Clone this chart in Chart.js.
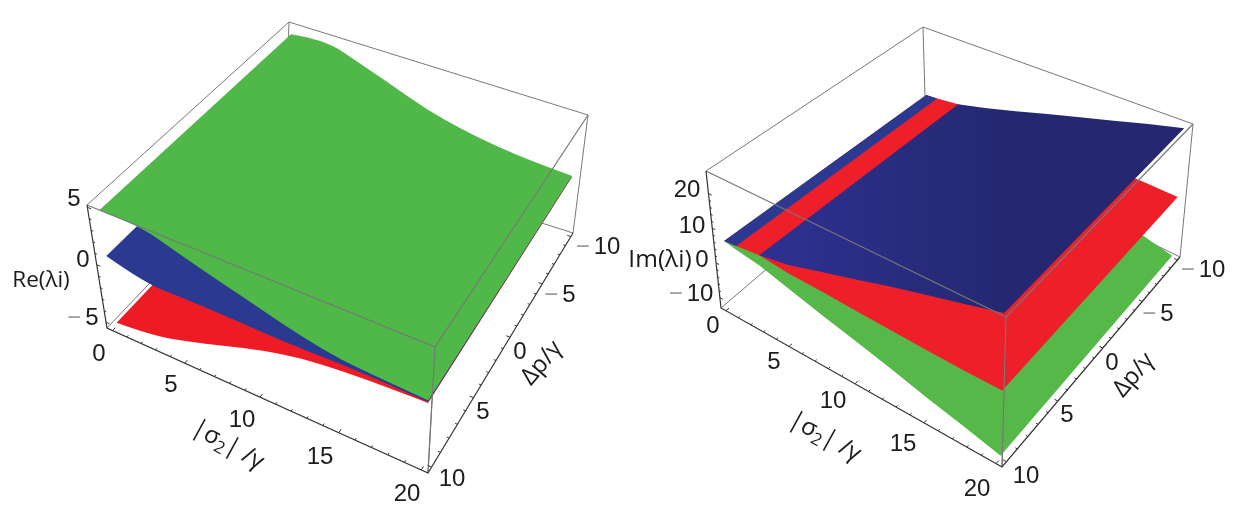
<!DOCTYPE html>
<html>
<head>
<meta charset="utf-8">
<title>Re and Im eigenvalue surfaces</title>
<script src="https://cdn.jsdelivr.net/npm/chart.js@4"></script>
<style>
  html, body { margin: 0; padding: 0; background: #fff; }
  canvas { position: absolute; top: 0; }
  #rePlot { left: 0; }
  #imPlot { left: 621px; }
</style>
</head>
<body>
<canvas id="rePlot" width="621" height="521"></canvas>
<canvas id="imPlot" width="621" height="521"></canvas>
<script>
// Re(lambda_i) panel: surface height along the near (delta = 10) and far (delta = -10) edges
const reSigma = [0, 2.5, 5, 7.5, 10, 12.5, 15, 17.5, 20]
const reGreenNear = [4.56, 4.7, 3.6, 2.62, 1.68, 0.78, 0.19, 0.03, -0.1]
const reGreenFar = [4.5, 4.95, 3.88, 2.8, 1.63, 0.85, 0.31, -0.03, -0.19]
const reBlueNear = [0.59, -0.4, -0.29, -0.24, -0.33, -0.3, -0.15, -0.15, -0.22]
const reBlueFar = [0.59, -0.3, -0.3, -0.25, -0.3, -0.3, -0.2, -0.2, -0.24]
const reRedNear = [-5.24, -4.95, -4.08, -3, -1.93, -1.12, -0.71, -0.48, -0.31]
const reRedFar = [-5.24, -4.95, -4.08, -3, -1.93, -1.12, -0.71, -0.48, -0.31]

// Im(lambda_i) panel
const imSigma = [0, 0.95, 2.75, 5, 7.5, 10, 12.5, 15, 17.5, 20]
const imGreenNear = [5.92, 5.2, 4.06, 1.7, -0.8, -3.1, -5.4, -7.9, -10, -12.3]
const imGreenFar = [2.8, 1.96, 0.6, -1, -2.9, -4.8, -6.7, -8.7, -10.5, -12.5]
const imRedNear = [5.92, 6.3, 7.2, 6.3, 6.1, 5.7, 5.4, 5.1, 4.9, 5]
const imRedFar = [2.8, 3.27, 4.44, 4.6, 4.8, 5, 5, 5, 5.1, 5]
const imBlueNear = [5.92, 6.3, 7.2, 8.8, 11.7, 14.6, 17.5, 20.2, 22.8, 25.5]
const imBlueFar = [2.8, 3.27, 4.44, 7.2, 10.5, 13.8, 16.9, 19.9, 22.9, 25.5]

// Axis ticks
const sigmaTicks = [0, 1, 2, 3, 4, 5, 6, 7, 8, 9, 10, 11, 12, 13, 14, 15, 16, 17, 18, 19, 20]
const deltaTicks = [-10, -9, -8, -7, -6, -5, -4, -3, -2, -1, 0, 1, 2, 3, 4, 5, 6, 7, 8, 9, 10]
const reTicks = [-5, -4, -3, -2, -1, 0, 1, 2, 3, 4, 5]
const imTicks = [-10, -8, -6, -4, -2, 0, 2, 4, 6, 8, 10, 12, 14, 16, 18, 20]

const sigmaTickLabels = ["0", "5", "10", "15", "20"]
const deltaTickLabels = ["10", "5", "0", "-5", "-10"]
const reTickLabels = ["5", "0", "-5"]
const imTickLabels = ["20", "10", "0", "-10"]

const GREEN = "#4fb848"
const BLUE = "#2b3990"
const RED = "#ed1c24"
const BOX_GREY = "#777"
const AXIS_DARK = "#333"
const TICK_FONT = '24px "Liberation Sans", sans-serif'
const MAJOR_TICK = 0.24
const MINOR_TICK = 0.14

const SIGMA_PAD = 0.4
const DELTA_PAD = 0.4

const lerp = (a, b, t) => ({ x: a.x + (b.x - a.x) * t, y: a.y + (b.y - a.y) * t })
// Nearer end of an edge takes up more of its length
const warp = (f, k) => f / (f + (1 - f) * k)

const makeProjection = (box, zMin, zMax) => (sigma, delta, z) => {
  const u = warp((sigma + SIGMA_PAD) / (20 + 2 * SIGMA_PAD), 1.097)
  const v = warp((10 + DELTA_PAD - delta) / (20 + 2 * DELTA_PAD), 0.767)
  const w = (z - zMin) / (zMax - zMin)
  const bottom = lerp(lerp(box.E, box.F, u), lerp(box.H, box.G, u), v)
  const top = lerp(lerp(box.A, box.D, u), lerp(box.B, box.C, u), v)
  return lerp(bottom, top, w)
}

// Traces an edge, rounding it through the midpoints when smooth is set
const traceEdge = (ctx, list, smooth) => {
  ctx.lineTo(list[0].x, list[0].y)
  if (smooth) {
    for (let i = 1; i < list.length - 1; i++) {
      const next = list[i + 1]
      const end = i === list.length - 2 ? next : { x: (list[i].x + next.x) / 2, y: (list[i].y + next.y) / 2 }
      ctx.quadraticCurveTo(list[i].x, list[i].y, end.x, end.y)
    }
  } else {
    list.forEach((p) => ctx.lineTo(p.x, p.y))
  }
}

// Fills the closed outline of a surface from the points the scales have placed
const surfacePlugin = {
  id: "surfaceFill",
  beforeDatasetDraw(chart, args) {
    const dataset = chart.data.datasets[args.index]
    if (!dataset.surfaceColor) return
    const ctx = chart.ctx
    const points = args.meta.data
    const half = points.length / 2
    let fillStyle = dataset.surfaceColor
    if (Array.isArray(fillStyle)) {
      const grad = ctx.createLinearGradient(points[0].x, 0, points[half - 1].x, 0)
      grad.addColorStop(0, fillStyle[0])
      grad.addColorStop(1, fillStyle[1])
      fillStyle = grad
    }
    ctx.save()
    ctx.beginPath()
    ctx.moveTo(points[0].x, points[0].y)
    traceEdge(ctx, points.slice(0, half), dataset.smooth)
    traceEdge(ctx, points.slice(half), dataset.smooth)
    ctx.closePath()
    ctx.fillStyle = fillStyle
    ctx.fill()
    ctx.restore()
  },
}

// Text labels, placed in the same coordinates as the scales
const labelPlugin = {
  id: "panelLabels",
  afterDraw(chart, args, opts) {
    const ctx = chart.ctx
    const px = (x) => chart.scales.x.getPixelForValue(x)
    const py = (y) => chart.scales.y.getPixelForValue(y)
    ctx.save()
    ctx.textBaseline = "alphabetic"
    ctx.textAlign = "center"

    opts.ticks.forEach(([text, x, y]) => {
      ctx.font = TICK_FONT
      const baseline = py(y) + 8.5
      if (text.startsWith("-")) {
        const digits = text.slice(1)
        const w = ctx.measureText(digits).width
        ctx.fillStyle = "#1c1c1c"
        ctx.fillText(digits, px(x), baseline)
        ctx.fillStyle = "#9a9a9a"
        ctx.fillText("\u2212", px(x) - w / 2 - 11, baseline)
      } else {
        ctx.fillStyle = "#1c1c1c"
        ctx.fillText(text, px(x), baseline)
      }
    })

    ctx.textBaseline = "middle"
    ctx.fillStyle = "#1a1a1a"
    ctx.font = `${opts.titleSize}px "Open Sans", sans-serif`
    ctx.fillText(opts.title[0], px(opts.title[1]), py(opts.title[2]))

    // |sigma_2| /gamma
    ctx.save()
    ctx.translate(px(opts.sigmaLabel[0]), py(opts.sigmaLabel[1]))
    ctx.rotate((29 * Math.PI) / 180)
    ctx.textAlign = "left"
    const head = "|\u03c3"
    const tail = "| /\u03b3"
    ctx.font = '17px "Open Sans", sans-serif'
    const subW = ctx.measureText("2").width
    ctx.font = '24px "Open Sans", sans-serif'
    const headW = ctx.measureText(head).width
    const tailW = ctx.measureText(tail).width
    const start = -(headW + subW + tailW) / 2
    ctx.fillText(head, start, 0)
    ctx.fillText(tail, start + headW + subW, 0)
    ctx.font = '17px "Open Sans", sans-serif'
    ctx.fillText("2", start + headW, 7)
    ctx.restore()

    // Delta_p /gamma
    ctx.save()
    ctx.translate(px(opts.deltaLabel[0]), py(opts.deltaLabel[1]))
    ctx.rotate((-49.5 * Math.PI) / 180)
    ctx.font = '24px "Open Sans", sans-serif'
    ctx.fillText("\u0394p/\u03b3", 0, 0)
    ctx.restore()

    ctx.restore()
  },
}

const surface = (project, sigmas, near, far, color, smooth = false) => ({
  label: "surface",
  surfaceColor: color,
  smooth,
  showLine: false,
  pointRadius: 0,
  data: [
    ...sigmas.map((s, i) => project(s, 10, near[i])),
    ...sigmas.map((s, i) => project(s, -10, far[i])).reverse(),
  ],
})

const strokes = (points, color, width) => ({
  label: "box",
  showLine: true,
  spanGaps: false,
  pointRadius: 0,
  borderColor: color,
  borderWidth: width,
  tension: 0,
  data: points,
})

const GAP = { x: null, y: null }

const buildPanel = (canvasId, xMin, box, zMin, zMax, zTicks, zMajorEvery, surfaces, labels) => {
  const project = makeProjection(box, zMin, zMax)
  const S0 = -SIGMA_PAD
  const S1 = 20 + SIGMA_PAD
  const D0 = 10 + DELTA_PAD

  const tickMarks = []
  sigmaTicks.forEach((s) => {
    const len = s % 5 === 0 ? MAJOR_TICK : MINOR_TICK
    tickMarks.push(project(s, D0, zMin), project(s, D0 - len, zMin), GAP)
  })
  deltaTicks.forEach((d) => {
    const len = d % 5 === 0 ? MAJOR_TICK : MINOR_TICK
    tickMarks.push(project(S1, d, zMin), project(S1 - len, d, zMin), GAP)
  })
  zTicks.forEach((z) => {
    const len = z % zMajorEvery === 0 ? MAJOR_TICK : MINOR_TICK
    tickMarks.push(project(S0, D0, z), project(S0 + len, D0, z), GAP)
  })

  const A = box.A, B = box.B, C = box.C, D = box.D, E = box.E, F = box.F, G = box.G, H = box.H
  const layers = [
    strokes([E, H, GAP, G, H, GAP, B, H], BOX_GREY, 1),
    strokes([A, B, C, G, GAP, D, F], BOX_GREY, 1),
    ...surfaces(project),
    strokes([A, D, C, GAP, D, F], BOX_GREY, 1.2),
    strokes([A, E, F, G], AXIS_DARK, 1.2),
    strokes(tickMarks, AXIS_DARK, 1),
  ]
  // Later layers sit on top
  layers.forEach((ds, i) => { ds.order = -i })

  return new Chart(document.getElementById(canvasId), {
    type: "scatter",
    data: { datasets: layers },
    plugins: [surfacePlugin, labelPlugin],
    options: {
      responsive: false,
      animation: false,
      events: [],
      layout: { padding: 0 },
      scales: {
        x: { type: "linear", min: xMin, max: xMin + 621, display: false },
        y: { type: "linear", min: 0, max: 521, reverse: true, display: false },
      },
      plugins: {
        legend: { display: false },
        tooltip: { enabled: false },
        panelLabels: labels,
      },
    },
  })
}

buildPanel(
  "rePlot", 0,
  {
    A: { x: 87, y: 205 }, B: { x: 289, y: 22 }, C: { x: 588, y: 115 }, D: { x: 435, y: 347 },
    E: { x: 107, y: 328 }, F: { x: 428, y: 473 }, G: { x: 573, y: 233 }, H: { x: 285, y: 141 },
  },
  -5.5, 5.2, reTicks, 5,
  (project) => [
    surface(project, reSigma, reRedNear, reRedFar, RED, true),
    surface(project, reSigma, reBlueNear, reBlueFar, BLUE, true),
    surface(project, reSigma, reGreenNear, reGreenFar, GREEN, true),
  ],
  {
    ticks: [
      [reTickLabels[0], 74, 197], [reTickLabels[1], 83, 258], [reTickLabels[2], 92, 316],
      [sigmaTickLabels[0], 99, 352], [sigmaTickLabels[1], 171, 383], [sigmaTickLabels[2], 242, 418],
      [sigmaTickLabels[3], 320, 455], [sigmaTickLabels[4], 407, 492],
      [deltaTickLabels[0], 452, 477], [deltaTickLabels[1], 483, 410], [deltaTickLabels[2], 520, 350],
      [deltaTickLabels[3], 569, 293], [deltaTickLabels[4], 607, 245],
    ],
    title: ["Re(\u03bbi)", 41, 281],
    titleSize: 22.5,
    sigmaLabel: [228, 445],
    deltaLabel: [542, 363],
  }
)

buildPanel(
  "imPlot", 621,
  {
    A: { x: 706, y: 171 }, B: { x: 923, y: 27 }, C: { x: 1193, y: 124 }, D: { x: 1006, y: 317 },
    E: { x: 721, y: 308 }, F: { x: 1002, y: 467 }, G: { x: 1180, y: 257 }, H: { x: 926, y: 133 },
  },
  -13, 26.5, imTicks, 10,
  (project) => [
    surface(project, imSigma, imGreenNear, imGreenFar, "#57b84a"),
    surface(project, imSigma, imRedNear, imRedFar, "#ee1f29"),
    surface(project, imSigma.slice(0, 2), imBlueNear.slice(0, 2), imBlueFar.slice(0, 2), BLUE),
    surface(project, imSigma.slice(2), imBlueNear.slice(2), imBlueFar.slice(2), ["#2e3192", "#252870"]),
  ],
  {
    ticks: [
      [imTickLabels[0], 687, 188], [imTickLabels[1], 692, 224], [imTickLabels[2], 702, 258], [imTickLabels[3], 700, 292],
      [sigmaTickLabels[0], 713, 324], [sigmaTickLabels[1], 774, 360], [sigmaTickLabels[2], 833, 399],
      [sigmaTickLabels[3], 903, 442], [sigmaTickLabels[4], 977, 487],
      [deltaTickLabels[0], 1026, 474], [deltaTickLabels[1], 1067, 413], [deltaTickLabels[2], 1112, 361],
      [deltaTickLabels[3], 1167, 312], [deltaTickLabels[4], 1212, 268],
    ],
    title: ["Im(\u03bbi)", 660, 260],
    titleSize: 24.5,
    sigmaLabel: [825, 437],
    deltaLabel: [1134, 375],
  }
)
</script>
</body>
</html>
